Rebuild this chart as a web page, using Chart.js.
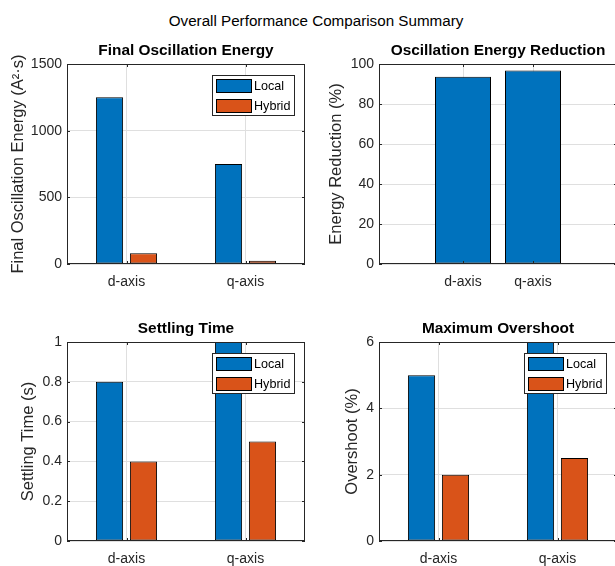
<!DOCTYPE html>
<html>
<head>
<meta charset="utf-8">
<script src="https://cdn.jsdelivr.net/npm/chart.js@4/dist/chart.umd.min.js"></script>
<style>
  html, body { margin: 0; padding: 0; background: #fff; }
  body { position: relative; width: 615px; height: 566px; overflow: hidden; }
  canvas { position: absolute; left: 0; top: 0; }
  #suptitle {
    position: absolute; left: 0; top: 12px; width: 632px; text-align: center;
    font: 15.2px/17px "Liberation Sans", Arial, sans-serif; color: #000;
  }
</style>
</head>
<body>
<div id="suptitle">Overall Performance Comparison Summary</div>
<canvas id="energy" width="620" height="600"></canvas>
<canvas id="reduction" width="620" height="600"></canvas>
<canvas id="settling" width="620" height="600"></canvas>
<canvas id="overshoot" width="620" height="600"></canvas>
<script>
// ---- data ----
const axisNames = ['d-axis', 'q-axis'];
const seriesNames = ['Local', 'Hybrid'];
const energyLocal = [1250, 750];      // A^2*s
const energyHybrid = [80, 25];
const reductionPct = [93.6, 96.7];    // %
const settlingLocal = [0.8, 1.0];     // s
const settlingHybrid = [0.4, 0.5];
const overshootLocal = [5, 6];        // %
const overshootHybrid = [2, 2.5];

const energyTicks = [0, 500, 1000, 1500];
const reductionTicks = [0, 20, 40, 60, 80, 100];
const settlingTicks = [0, 0.2, 0.4, 0.6, 0.8, 1];
const overshootTicks = [0, 2, 4, 6];

// ---- styling ----
const BLUE = '#0072BD';
const ORANGE = '#D95319';
const AXIS_COLOR = '#262626';
const GRID_COLOR = '#dfdfdf';
const FONT = '"Liberation Sans", Arial, Helvetica, sans-serif';

Chart.defaults.font.family = FONT;
Chart.defaults.color = AXIS_COLOR;

const CANVAS_W = 620, CANVAS_H = 600;
const Y_AXIS_W = 67;
const X_AXIS_H = 40;
const TITLE_SIZE = 15.4, TITLE_PAD = 4;
const TITLE_H = TITLE_SIZE * 1.2 + TITLE_PAD;
const YLABEL_SIZE = 16.5;

// Padding that puts the plot box at [left, top, right, bottom]
function layoutFor(box) {
  const [l, t, r, b] = box;
  return {
    padding: {
      left: l - Y_AXIS_W,
      right: CANVAS_W - r,
      top: t - TITLE_H,
      bottom: CANVAS_H - b - X_AXIS_H
    }
  };
}

// Axes box with inward tick marks on all four sides
const frame = {
  id: 'frame',
  afterDatasetsDraw(chart) {
    const { ctx, chartArea: a, scales } = chart;
    const L = Math.round(a.left), R = Math.round(a.right);
    const T = Math.round(a.top), B = Math.round(a.bottom);
    ctx.save();
    ctx.strokeStyle = AXIS_COLOR;
    ctx.lineWidth = 1;
    ctx.strokeRect(L + 0.5, T + 0.5, R - L - 1, B - T - 1);
    ctx.beginPath();
    const y = scales.y, x = scales.x;
    y.ticks.forEach((t, i) => {
      const py = Math.round(y.getPixelForTick(i)) + 0.5;
      ctx.moveTo(L, py); ctx.lineTo(L + 3, py);
      ctx.moveTo(R, py); ctx.lineTo(R - 3, py);
    });
    x.ticks.forEach((t, i) => {
      const px = Math.round(x.getPixelForTick(i)) + 0.5;
      ctx.moveTo(px, B); ctx.lineTo(px, B - 3);
      ctx.moveTo(px, T); ctx.lineTo(px, T + 3);
    });
    ctx.stroke();
    ctx.restore();
  }
};

// Boxed legend in the upper-right corner of the plot area
const boxLegend = {
  id: 'boxLegend',
  afterDraw(chart, args, opts) {
    if (!opts.show) return;
    const { ctx, chartArea: a } = chart;
    const w = 83, h = 41;
    const x0 = Math.round(a.right) - 10 - w;
    const y0 = Math.round(a.top) + 11;
    ctx.save();
    ctx.fillStyle = '#fff';
    ctx.fillRect(x0, y0, w, h);
    ctx.strokeStyle = AXIS_COLOR;
    ctx.lineWidth = 1;
    ctx.strokeRect(x0 + 0.5, y0 + 0.5, w - 1, h - 1);
    ctx.font = '12.6px ' + FONT;
    ctx.textBaseline = 'middle';
    ctx.textAlign = 'left';
    chart.data.datasets.forEach((ds, i) => {
      const sx = x0 + 4, sy = y0 + 4 + i * 19.5;
      ctx.fillStyle = ds.backgroundColor;
      ctx.fillRect(sx, Math.round(sy), 36, 14);
      ctx.strokeStyle = '#000';
      ctx.strokeRect(sx + 0.5, Math.round(sy) + 0.5, 35, 13);
      ctx.fillStyle = '#000';
      ctx.fillText(ds.label, sx + 38, Math.round(sy) + 7.5);
    });
    ctx.restore();
  }
};

function titleOpts(text) {
  return {
    display: true, text, fullSize: false, color: '#000',
    font: { size: TITLE_SIZE, weight: 'bold', lineHeight: 1.2 },
    padding: { top: 0, bottom: TITLE_PAD }
  };
}

function yScale(ticksList, label, titlePad) {
  return {
    type: 'linear',
    min: ticksList[0], max: ticksList[ticksList.length - 1],
    afterBuildTicks: s => { s.ticks = ticksList.map(v => ({ value: v })); },
    afterFit: s => { s.width = Y_AXIS_W; },
    border: { display: false },
    grid: { color: GRID_COLOR, drawTicks: false },
    ticks: {
      padding: 5, color: AXIS_COLOR, font: { size: 14 },
      callback: v => String(+v.toFixed(2))
    },
    title: {
      display: true, text: label, color: AXIS_COLOR,
      font: { size: YLABEL_SIZE, lineHeight: 1.2 },
      padding: { top: titlePad, bottom: 0 }
    }
  };
}

function xCategoryScale() {
  return {
    type: 'category',
    offset: true,
    afterFit: s => { s.height = X_AXIS_H; },
    border: { display: false },
    grid: { color: GRID_COLOR, drawTicks: false, offset: false },
    ticks: { padding: 10, color: AXIS_COLOR, font: { size: 14 } }
  };
}

function groupedPanel(id, box, title, yLabel, yTicks, titlePad, local, hybrid) {
  return new Chart(document.getElementById(id), {
    type: 'bar',
    data: {
      labels: axisNames,
      datasets: [
        { label: seriesNames[0], data: local, backgroundColor: BLUE,
          borderColor: '#000', borderWidth: 1, borderSkipped: false },
        { label: seriesNames[1], data: hybrid, backgroundColor: ORANGE,
          borderColor: '#000', borderWidth: 1, borderSkipped: false }
      ]
    },
    options: {
      responsive: false, animation: false, devicePixelRatio: 1,
      categoryPercentage: 0.571, barPercentage: 0.8,
      layout: layoutFor(box),
      scales: { x: xCategoryScale(), y: yScale(yTicks, yLabel, titlePad) },
      plugins: {
        legend: { display: false }, tooltip: { enabled: false },
        title: titleOpts(title),
        boxLegend: { show: true }
      }
    },
    plugins: [frame, boxLegend]
  });
}

// Final oscillation energy
groupedPanel('energy', [67, 64, 305, 264], 'Final Oscillation Energy',
  'Final Oscillation Energy (A²·s)', energyTicks, 9, energyLocal, energyHybrid);

// Energy reduction (single series on a numeric x axis)
new Chart(document.getElementById('reduction'), {
  type: 'bar',
  data: {
    datasets: [{
      label: 'Reduction',
      data: axisNames.map((_, i) => ({ x: i + 1, y: reductionPct[i] })),
      backgroundColor: BLUE, borderColor: '#000', borderWidth: 1, borderSkipped: false
    }]
  },
  options: {
    responsive: false, animation: false, devicePixelRatio: 1,
    categoryPercentage: 1, barPercentage: 0.8,
    layout: layoutFor([379, 64, 617, 264]),
    scales: {
      x: {
        type: 'linear', min: -0.2, max: 3.2, offset: false,
        afterBuildTicks: s => { s.ticks = axisNames.map((_, i) => ({ value: i + 1 })); },
        afterFit: s => { s.height = X_AXIS_H; },
        border: { display: false },
        grid: { color: GRID_COLOR, drawTicks: false, offset: false },
        ticks: { padding: 10, color: AXIS_COLOR, font: { size: 14 }, autoSkip: false,
                 callback: v => axisNames[Math.round(v) - 1] }
      },
      y: yScale(reductionTicks, 'Energy Reduction (%)', 15)
    },
    plugins: {
      legend: { display: false }, tooltip: { enabled: false },
      title: titleOpts('Oscillation Energy Reduction'),
      boxLegend: { show: false }
    }
  },
  plugins: [frame, boxLegend]
});

// Settling time
groupedPanel('settling', [67, 342, 305, 541], 'Settling Time',
  'Settling Time (s)', settlingTicks, 19, settlingLocal, settlingHybrid);

// Maximum overshoot
groupedPanel('overshoot', [379, 342, 617, 541], 'Maximum Overshoot',
  'Overshoot (%)', overshootTicks, 31, overshootLocal, overshootHybrid);
</script>
</body>
</html>
